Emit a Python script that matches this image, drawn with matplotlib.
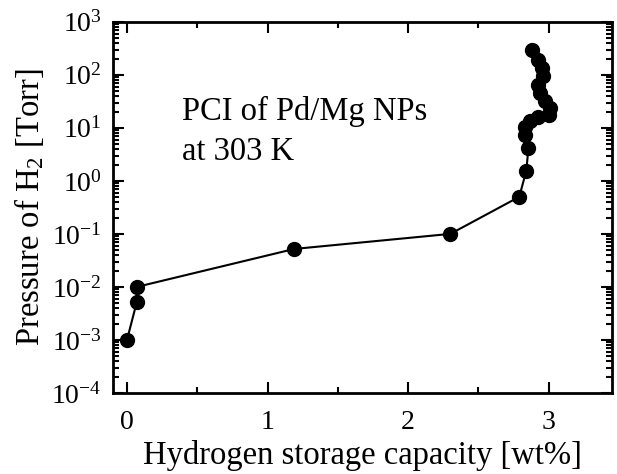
import matplotlib
matplotlib.use("Agg")
import matplotlib.pyplot as plt
from matplotlib.ticker import LogLocator, MultipleLocator, NullFormatter

plt.rcParams['font.family'] = ['Liberation Serif', 'DejaVu Serif']
plt.rcParams['mathtext.fontset'] = 'custom'
plt.rcParams['mathtext.rm'] = 'Liberation Serif'
plt.rcParams['mathtext.it'] = 'Liberation Serif:italic'
plt.rcParams['mathtext.default'] = 'regular'
plt.rcParams['axes.unicode_minus'] = False

# PCI data
capacity = [0.0, 0.07, 0.07, 1.19, 2.30, 2.79, 2.84, 2.855, 2.83, 2.83,
            2.866, 2.926, 2.998, 3.009, 2.974, 2.938, 2.926, 2.962, 2.95,
            2.926, 2.879]
pressure = [1.0e-3, 5.2e-3, 1.0e-2, 5.2e-2, 0.10, 0.50, 1.55, 4.1, 7.4,
            10.6, 13.2, 16.3, 17.6, 23.8, 31.6, 45, 65, 93, 134, 191, 295]

fig = plt.figure(figsize=(6.17, 4.74), dpi=100)
ax = fig.add_axes([0.183, 0.171, 0.809, 0.783])

ax.plot(capacity, pressure, '-o', color='black', lw=1.5, ms=10)

ax.set_yscale('log')
ax.set_xlim(-0.1, 3.45)
ax.set_ylim(1e-4, 1e3)
ax.xaxis.set_major_locator(MultipleLocator(1))
ax.xaxis.set_minor_locator(MultipleLocator(0.5))
ax.yaxis.set_major_locator(LogLocator(base=10, numticks=20))
ax.yaxis.set_minor_locator(LogLocator(base=10, subs=range(2, 10), numticks=20))
ax.yaxis.set_minor_formatter(NullFormatter())

ax.tick_params(which='both', direction='in', top=True, right=True,
               width=1.5, labelsize=20, colors='black')
ax.tick_params(which='major', length=8)
ax.tick_params(which='minor', length=4)
ax.tick_params(axis='x', pad=12)
ax.tick_params(axis='y', pad=8)
for s in ax.spines.values():
    s.set_linewidth(2)

ax.set_xlabel('Hydrogen storage capacity [wt%]', fontsize=23.5, labelpad=4)
ax.set_ylabel('Pressure of H$_2$ [Torr]', fontsize=23.5, labelpad=4)

ax.text(0.138, 0.736, 'PCI of Pd/Mg NPs', transform=ax.transAxes,
        fontsize=23.5, va='baseline', ha='left')
ax.text(0.138, 0.628, 'at 303 K', transform=ax.transAxes,
        fontsize=23.5, va='baseline', ha='left')

fig.savefig('out.png', dpi=100)
